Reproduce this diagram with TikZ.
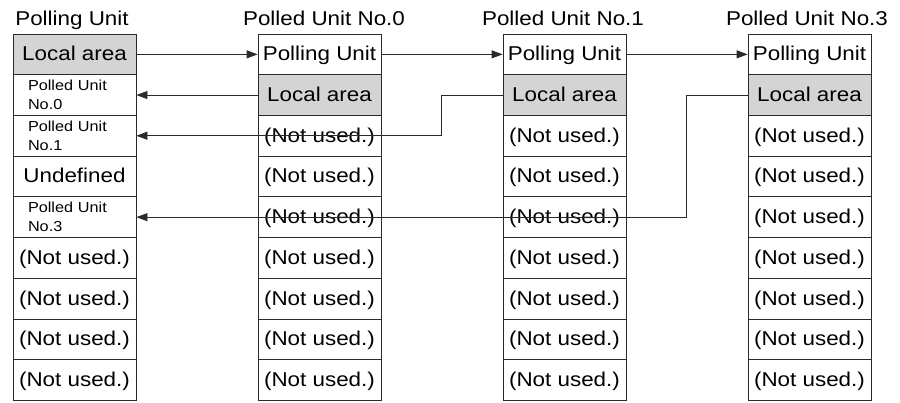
\documentclass[tikz,border=0pt]{standalone}
\usepackage{fontspec}
\setmainfont[FakeStretch=1.12]{Liberation Sans}
\usepackage{tikz}
\usetikzlibrary{arrows.meta}
\definecolor{AreaGray}{HTML}{D4D4D4}
\definecolor{LineCol}{HTML}{2A2A2A}
\newcommand{\notused}{(Not used.)}
\tikzset{
  box/.style={draw=LineCol, line width=0.8pt, minimum width=123pt,
    minimum height=40.7pt, inner sep=0pt},
  cell/.style={box, font=\fontsize{20}{24}\selectfont,
    text height=13pt, text depth=0pt},
  local/.style={cell, fill=AreaGray},
  small/.style={box, text width=93pt, align=left,
    font=\fontsize{14.5}{19}\selectfont},
  title/.style={anchor=base, font=\fontsize{20}{24}\selectfont},
  link/.style={draw=LineCol, line width=0.8pt,
    -{Triangle[length=11pt,width=8pt]}}
}

\begin{document}
\begin{tikzpicture}[x=1pt, y=-1pt]
  \useasboundingbox (0,0) rectangle (900,402);
  % titles
  \node[title] (ta) at (72,25) {Polling Unit};
  \node[title] (tb) at (324,25) {Polled Unit No.0};
  \node[title] (tc) at (563,25) {Polled Unit No.1};
  \node[title] (td) at (807,25) {Polled Unit No.3};
  % polling unit
  \node[local] (a0) at (74.5,54.35) {Local area};
  \node[small] (a1) at (74.5,95.05) {Polled Unit\\No.0};
  \node[small] (a2) at (74.5,135.75) {Polled Unit\\No.1};
  \node[cell]  (a3) at (74.5,176.45) {Undefined};
  \node[small] (a4) at (74.5,217.15) {Polled Unit\\No.3};
  % polled unit No.0
  \node[cell]  (b0) at (319.5,54.35) {Polling Unit};
  \node[local] (b1) at (319.5,95.05) {Local area};
  % polled unit No.1
  \node[cell]  (c0) at (564.5,54.35) {Polling Unit};
  \node[local] (c1) at (564.5,95.05) {Local area};
  % polled unit No.3
  \node[cell]  (d0) at (809.5,54.35) {Polling Unit};
  \node[local] (d1) at (809.5,95.05) {Local area};
  % unused words
  \foreach \r/\y in {5/257.85, 6/298.55, 7/339.25, 8/379.95}
    \node[cell] (a\r) at (74.5,\y) {\notused};
  \foreach \r/\y in {2/135.75, 3/176.45, 4/217.15, 5/257.85,
                     6/298.55, 7/339.25, 8/379.95} {
    \node[cell] (b\r) at (319.5,\y) {\notused};
    \node[cell] (c\r) at (564.5,\y) {\notused};
    \node[cell] (d\r) at (809.5,\y) {\notused};
  }
  % links
  \draw[link] (a0.east) -- (b0.west);
  \draw[link] (b0.east) -- (c0.west);
  \draw[link] (c0.east) -- (d0.west);
  \draw[link] (b1.west) -- (a1.east);
  \draw[link] (c1.west) -- ++(-61,0) |- (a2.east);
  \draw[link] (d1.west) -- ++(-61,0) |- (a4.east);
\end{tikzpicture}
\end{document}
